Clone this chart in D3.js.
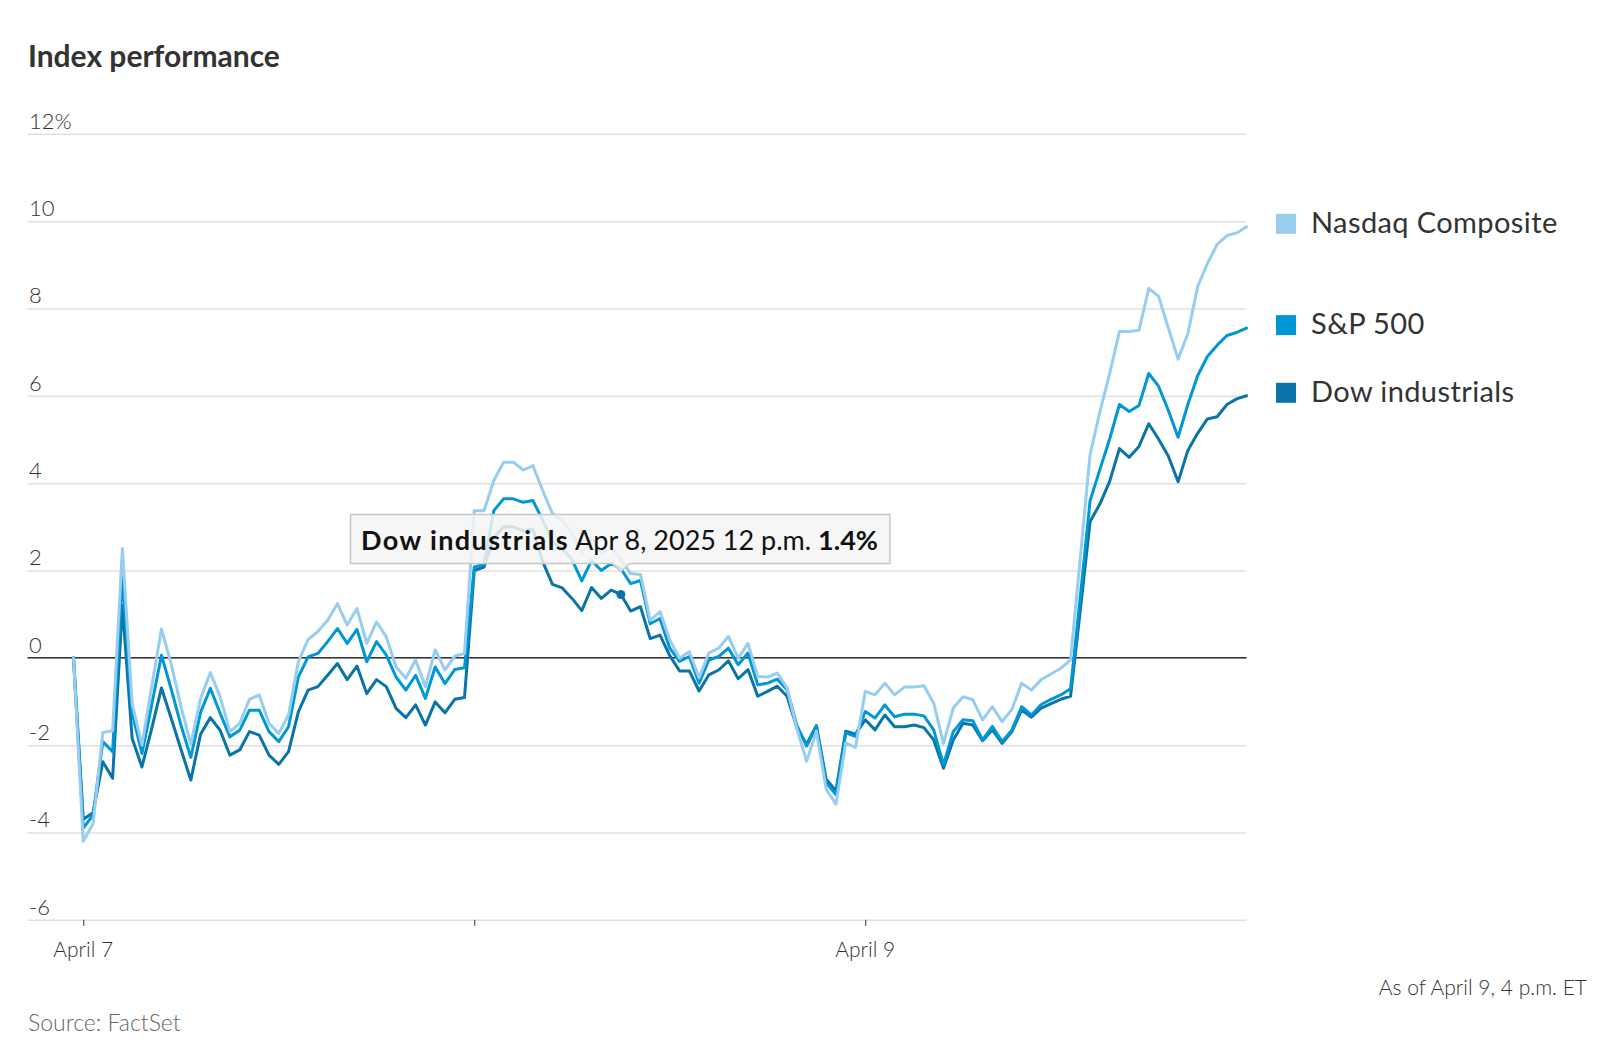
<!DOCTYPE html>
<html><head><meta charset="utf-8">
<script src="https://cdn.jsdelivr.net/npm/d3@7"></script>
<style>
html,body{margin:0;padding:0;background:#fff;}
svg{display:block;font-family:Lato,"Open Sans",sans-serif;}
</style></head><body>
<svg id="chart" width="1602" height="1053"></svg>
<script>
// ---- data ----
const days = ["April 7", "April 8", "April 9"];
const pointsPerDay = 40; // 9:30 a.m. to 4 p.m., every 10 minutes; first point = April 4 close
const xTickLabels = ["April 7", "", "April 9"];
const yTicks = [12, 10, 8, 6, 4, 2, 0, -2, -4, -6];
const yTickLabels = ["12%", "10", "8", "6", "4", "2", "0", "-2", "-4", "-6"];
const seriesNames = ["Nasdaq Composite", "S&P 500", "Dow industrials"];
const seriesColors = ["#97cdee", "#0097d7", "#0a74a8"];

const nasdaq = [0,
 -4.2,-3.8,-1.71,-1.67,2.5,-1.05,-2.0,-0.66,0.66,-0.15,
 -1.12,-1.98,-0.93,-0.34,-0.89,-1.69,-1.50,-0.95,-0.85,-1.50,
 -1.73,-1.31,-0.09,0.42,0.60,0.86,1.24,0.75,1.13,0.33,
 0.82,0.48,-0.21,-0.47,-0.05,-0.66,0.18,-0.28,0.04,0.10,
 3.37,3.37,4.06,4.48,4.48,4.30,4.40,3.83,3.30,3.15,
 2.85,2.40,2.75,2.40,2.55,2.25,1.93,1.91,0.86,1.06,
 0.41,-0.01,0.14,-0.46,0.11,0.22,0.49,-0.01,0.33,-0.43,
 -0.44,-0.35,-0.69,-1.62,-2.37,-1.68,-3.01,-3.35,-1.95,-2.05,
 -0.77,-0.85,-0.58,-0.85,-0.67,-0.67,-0.64,-1.04,-1.96,-1.15,
 -0.89,-0.96,-1.42,-1.12,-1.46,-1.18,-0.58,-0.74,-0.50,-0.37,
 -0.24,-0.05,2.3,4.66,5.63,6.51,7.47,7.47,7.50,8.46,
 8.28,7.56,6.84,7.42,8.50,9.03,9.47,9.67,9.73,9.87];

const sp500 = [0,
 -3.9,-3.6,-1.92,-2.15,1.85,-1.27,-2.19,-1.08,0.06,-0.72,
 -1.55,-2.28,-1.25,-0.70,-1.27,-1.81,-1.66,-1.20,-1.20,-1.69,
 -1.92,-1.58,-0.44,0.02,0.10,0.37,0.67,0.33,0.65,-0.09,
 0.37,0.06,-0.44,-0.74,-0.40,-0.93,-0.21,-0.59,-0.27,-0.23,
 2.08,2.14,3.37,3.64,3.64,3.56,3.60,3.15,2.65,2.50,
 2.25,1.76,2.23,2.00,2.16,2.04,1.70,1.77,0.78,0.90,
 0.22,-0.08,0.03,-0.58,-0.05,0.03,0.22,-0.16,0.11,-0.62,
 -0.58,-0.49,-0.73,-1.55,-2.02,-1.57,-2.86,-3.13,-1.72,-1.80,
 -1.23,-1.38,-1.08,-1.35,-1.29,-1.29,-1.33,-1.65,-2.45,-1.69,
 -1.42,-1.44,-1.88,-1.57,-1.92,-1.65,-1.12,-1.31,-1.07,-0.95,
 -0.85,-0.71,1.4,3.60,4.31,5.01,5.80,5.64,5.78,6.51,
 6.22,5.67,5.05,5.80,6.46,6.90,7.16,7.38,7.45,7.55];

const dow = [0,
 -3.7,-3.55,-2.38,-2.76,1.2,-1.85,-2.5,-1.62,-0.69,-1.39,
 -2.1,-2.8,-1.75,-1.37,-1.66,-2.23,-2.11,-1.69,-1.77,-2.23,
 -2.44,-2.15,-1.24,-0.74,-0.66,-0.40,-0.13,-0.50,-0.19,-0.82,
 -0.50,-0.66,-1.16,-1.37,-1.08,-1.54,-1.01,-1.26,-0.95,-0.91,
 2.0,2.08,2.75,3.0,3.0,2.9,2.95,2.2,1.68,1.60,
 1.36,1.08,1.61,1.36,1.55,1.45,1.07,1.17,0.44,0.52,
 0.05,-0.30,-0.30,-0.76,-0.39,-0.28,-0.07,-0.48,-0.27,-0.88,
 -0.77,-0.65,-0.88,-1.60,-1.98,-1.55,-2.78,-3.05,-1.68,-1.75,
 -1.42,-1.65,-1.31,-1.58,-1.58,-1.54,-1.60,-1.88,-2.53,-1.88,
 -1.50,-1.54,-1.90,-1.65,-1.96,-1.69,-1.19,-1.36,-1.15,-1.05,
 -0.95,-0.88,1.1,3.12,3.52,4.04,4.79,4.59,4.84,5.36,
 5.01,4.62,4.03,4.75,5.14,5.47,5.52,5.80,5.93,6.00];

const tooltipSeries = 2;          // Dow industrials
const tooltipIndex = 56;          // Apr 8, 12 p.m. (array position)
const tooltipDate = "Apr 8, 2025 12 p.m.";
const tooltipValue = "1.4%";

// ---- chart ----
const svg = d3.select("#chart");
const textColor = "#333";
const series = [nasdaq, sp500, dow];
const nPts = nasdaq.length;

const x = d3.scaleLinear().domain([-1, days.length * pointsPerDay - 1]).range([73.5, 1246.5]);
const y = d3.scaleLinear().domain([-6, 12]).range([919.8, 133.8]);
const gridLeft = 27.6, gridRight = 1246.5;

svg.append("rect").attr("width", 1602).attr("height", 1053).attr("fill", "#fff");

// title
svg.append("text").attr("x", 28).attr("y", 67).attr("font-size", 30).attr("font-weight", 700)
  .attr("fill", textColor).text("Index performance");

// gridlines
svg.append("g").attr("transform", `translate(${gridLeft},0)`).call(
  d3.axisRight(y).tickValues(yTicks).tickSize(gridRight - gridLeft).tickFormat("")
).call(g => {
  g.select(".domain").remove();
  g.selectAll(".tick line").attr("stroke", "#e0e0e0").attr("stroke-width", 1.5);
});

// y tick labels
svg.append("g").selectAll("text").data(yTicks).join("text")
  .attr("x", 29).attr("y", d => y(d) - 5)
  .attr("font-size", 22).attr("font-weight", 300).attr("fill", textColor)
  .text((d, i) => yTickLabels[i]);

// x axis ticks
const dayStarts = days.map((d, i) => i * pointsPerDay);
const xAxis = d3.axisBottom(x).tickValues(dayStarts).tickSize(6).tickFormat("");
svg.append("g").attr("transform", `translate(0,${y(-6)})`).call(xAxis).call(g => {
  g.select(".domain").remove();
  g.selectAll(".tick line").attr("stroke", "#333").attr("stroke-width", 1);
});
svg.append("g").selectAll("text").data(dayStarts).join("text")
  .attr("x", d => x(d)).attr("y", 957).attr("text-anchor", "middle")
  .attr("font-size", 21).attr("font-weight", 300).attr("fill", textColor)
  .text((d, i) => xTickLabels[i]);

// zero line
svg.append("line").attr("x1", gridLeft).attr("x2", gridRight).attr("y1", y(0)).attr("y2", y(0))
  .attr("stroke", "#333").attr("stroke-width", 1.5);

// lines (Dow first so Nasdaq is on top)
const line = d3.line().x((d, i) => x(i - 1)).y(d => y(d)).curve(d3.curveLinear);
[2, 1, 0].forEach(k => {
  svg.append("path").datum(series[k]).attr("d", line)
    .attr("fill", "none").attr("stroke", seriesColors[k]).attr("stroke-width", 3)
    .attr("stroke-linejoin", "round").attr("stroke-linecap", "round");
});

// legend at line ends
seriesNames.forEach((name, k) => {
  const cy = y(series[k][nPts - 1]) - 3;
  svg.append("rect").attr("x", 1276).attr("y", cy - 10).attr("width", 20).attr("height", 20)
    .attr("fill", seriesColors[k]);
  svg.append("text").attr("x", 1311).attr("y", cy + 9).attr("font-size", 29)
    .attr("letter-spacing", 0.4).attr("fill", textColor).text(name);
});

// tooltip
const tx = x(tooltipIndex - 1), ty = y(series[tooltipSeries][tooltipIndex]);
const tipG = svg.append("g");
const boxPath = tipG.append("path");
const tipText = tipG.append("text").attr("x", 361).attr("y", 550).attr("font-size", 27).attr("fill", "#111");
tipText.append("tspan").attr("font-weight", 700).attr("letter-spacing", 1.4).text(seriesNames[tooltipSeries]);
tipText.append("tspan").attr("letter-spacing", 0).text(" " + tooltipDate + " ");
tipText.append("tspan").attr("font-weight", 700).text(tooltipValue);
const bb = tipText.node().getBBox();
const bx0 = 350.5, bx1 = bb.x + bb.width + 12, by0 = 514.5, by1 = 563.5;
boxPath.attr("d", `M${bx0},${by0}H${bx1}V${by1}H${tx + 9}L${tx},${by1 + 8}L${tx - 9},${by1}H${bx0}Z`)
  .attr("fill", "rgba(245,245,245,0.85)").attr("stroke", "#c8c8c8").attr("stroke-width", 1.5);
svg.append("circle").attr("cx", tx).attr("cy", ty).attr("r", 4.5).attr("fill", seriesColors[tooltipSeries]);

// footer
svg.append("text").attr("x", 1587).attr("y", 995).attr("text-anchor", "end").attr("font-size", 21)
  .attr("font-weight", 300).attr("fill", textColor).text("As of April 9, 4 p.m. ET");
svg.append("text").attr("x", 28).attr("y", 1031).attr("font-size", 23).attr("font-weight", 300)
  .attr("fill", "#666").text("Source: FactSet");
</script>
</body></html>
